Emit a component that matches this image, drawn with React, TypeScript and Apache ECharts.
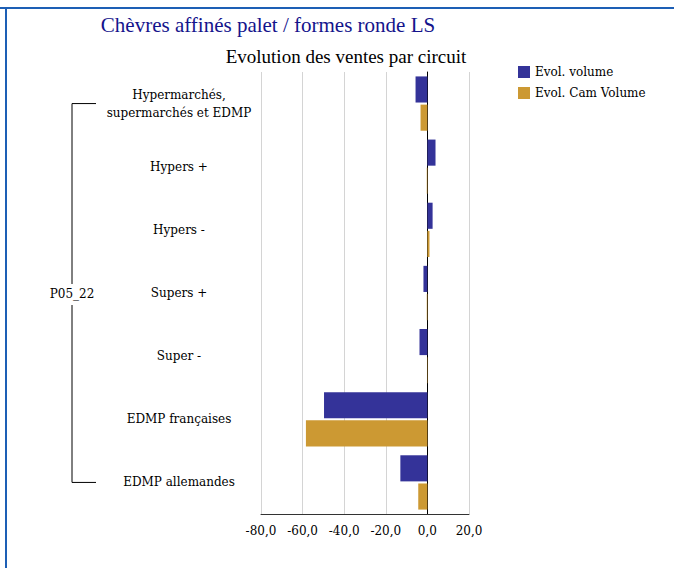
import React, { useEffect, useRef } from "react";
import * as echarts from "echarts";

const categories = [
  "Hypermarchés,\nsupermarchés et EDMP",
  "Hypers +",
  "Hypers -",
  "Supers +",
  "Super -",
  "EDMP françaises",
  "EDMP allemandes",
];
const groupLabel = "P05_22";
const seriesNames = ["Evol. volume", "Evol. Cam Volume"];
const evolVolume = [-5.7, 3.9, 2.5, -1.9, -3.8, -49.7, -13.0];
const evolCamVolume = [-3.3, -0.3, 1.0, -0.3, -0.2, -58.4, -4.4];
const xTicks = { min: -80, max: 20, interval: 20 };

const TITLE = "Chèvres affinés palet / formes ronde LS";
const SUBTITLE = "Evolution des ventes par circuit";

const SERIF_T = "'Liberation Serif', serif";
const SERIF_L = "'DejaVu Serif', serif";

export default function App() {
  const ref = useRef<HTMLDivElement>(null);
  useEffect(() => {
    if (!ref.current) return;
    const chart = echarts.init(ref.current, null, { renderer: "svg" });
    const gridLeft = 261;
    const gridTop = 72;
    const gridBottom = 54;
    const H = 568;
    const plotH = H - gridTop - gridBottom;
    const band = plotH / categories.length;
    const firstY = gridTop + band / 2;
    const lastY = gridTop + plotH - band / 2;
    const bx = 72;
    chart.setOption({
      animation: false,
      backgroundColor: "#ffffff",
      textStyle: { fontFamily: SERIF_L },
      grid: { left: gridLeft, right: 205, top: gridTop, bottom: gridBottom, containLabel: false },
      legend: {
        orient: "vertical",
        left: 513,
        top: 61,
        itemWidth: 12,
        itemHeight: 12,
        itemGap: 9,
        icon: "rect",
        textStyle: { fontFamily: SERIF_L, fontSize: 12, color: "#000" },
        data: seriesNames,
      },
      xAxis: {
        type: "value",
        min: xTicks.min,
        max: xTicks.max,
        interval: xTicks.interval,
        axisLine: { show: true, lineStyle: { color: "#333", width: 1 } },
        axisTick: { show: false },
        splitLine: { show: true, lineStyle: { color: "#d4d4d4", width: 1 } },
        axisLabel: {
          fontFamily: SERIF_L,
          fontSize: 12,
          color: "#000",
          margin: 11,
          formatter: (v: number) => v.toFixed(1).replace(".", ","),
        },
      },
      yAxis: {
        type: "category",
        inverse: true,
        data: categories,
        axisLine: { show: true, lineStyle: { color: "#000", width: 1 } },
        axisTick: { show: false },
        splitLine: { show: false },
        axisLabel: {
          fontFamily: SERIF_L,
          fontSize: 12,
          color: "#000",
          align: "center",
          margin: 82,
          lineHeight: 18,
        },
      },
      series: [
        {
          name: seriesNames[0],
          type: "bar",
          data: evolVolume,
          itemStyle: { color: "#343399" },
          barGap: "8%",
          barCategoryGap: "14%",
        },
        {
          name: seriesNames[1],
          type: "bar",
          data: evolCamVolume,
          itemStyle: { color: "#cc9933" },
          barGap: "8%",
          barCategoryGap: "14%",
        },
      ],
      graphic: [
        { type: "line", shape: { x1: 0, y1: 8, x2: 674, y2: 8 }, style: { stroke: "#1d5fb5", lineWidth: 2 } },
        { type: "line", shape: { x1: 6, y1: 7, x2: 6, y2: 568 }, style: { stroke: "#1d5fb5", lineWidth: 2 } },
        {
          type: "text",
          x: 268,
          y: 25,
          style: { text: TITLE, fill: "#14148c", font: `21px ${SERIF_T}`, textAlign: "center", textVerticalAlign: "middle" },
        },
        {
          type: "text",
          x: 346,
          y: 56,
          style: { text: SUBTITLE, fill: "#000", font: `19px ${SERIF_T}`, textAlign: "center", textVerticalAlign: "middle" },
        },
        { type: "polyline", shape: { points: [[96, firstY], [bx, firstY], [bx, 284]] }, style: { stroke: "#000", lineWidth: 1, fill: "none" } },
        { type: "polyline", shape: { points: [[bx, 305], [bx, lastY], [96, lastY]] }, style: { stroke: "#000", lineWidth: 1, fill: "none" } },
        {
          type: "text",
          x: bx,
          y: 294,
          style: { text: groupLabel, fill: "#000", font: `12px ${SERIF_L}`, textAlign: "center", textVerticalAlign: "middle" },
        },
      ],
    });
    return () => chart.dispose();
  }, []);
  return <div ref={ref} style={{ position: "fixed", left: 0, top: 0, width: 674, height: 568 }} />;
}
